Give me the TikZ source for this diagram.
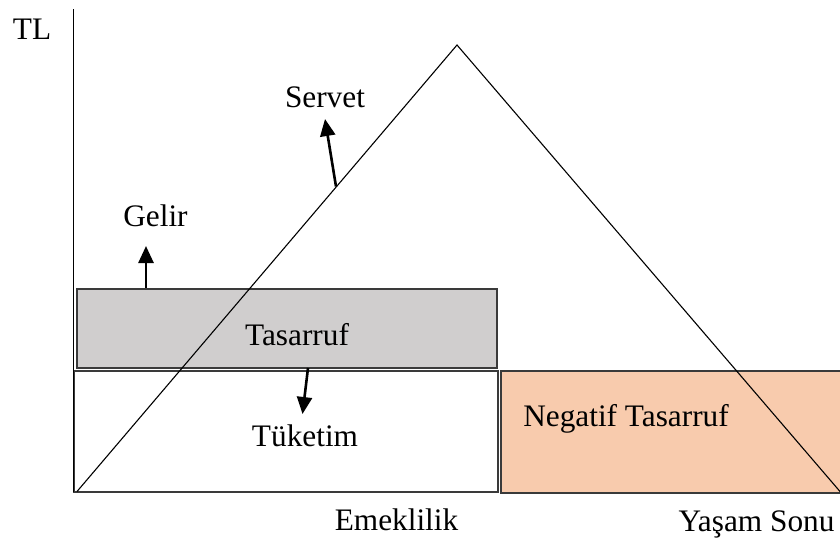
\documentclass[tikz,border=0pt]{standalone}
\usepackage{fontspec}
\setmainfont{Liberation Serif}
\usetikzlibrary{arrows.meta}
\definecolor{savegray}{HTML}{D0CECE}
\definecolor{dissave}{HTML}{F8CBAD}
\definecolor{edgeline}{HTML}{3A3A3A}

\begin{document}
\begin{tikzpicture}[x=1pt,y=-1pt,
  lbl/.style={anchor=base,inner sep=0pt,font=\fontsize{31.3}{36}\selectfont},
  band/.style={draw=edgeline,line width=1.5pt},
  thinline/.style={line width=1.1pt},
  pointer/.style={line width=2.6pt,-{Triangle[width=15pt,length=17pt]}}]
\useasboundingbox (0,0) rectangle (840,547);

% dissaving block after retirement
\draw[band,fill=dissave] (501,371) rectangle (846,493);
% saving band (income above consumption)
\draw[band,fill=savegray] (77,289) rectangle (497,368);
% consumption block
\draw[draw=edgeline,line width=1.3pt] (74,371) rectangle (498,492);

% wealth triangle
\coordinate (w0) at (77,491.5);
\coordinate (wtop) at (457,45);
\coordinate (wend) at (843,495);
\draw[thinline] (w0) -- (wtop) -- (wend);

% vertical axis
\coordinate (ytop) at (73.5,9);
\coordinate (ybot) at (73.5,492);
\draw[line width=1.3pt] (ytop) -- (ybot);

% labels
\node[lbl] (tl) at (32,39) {TL};
\node[lbl] (servet) at (325,107.5) {Servet};
\node[lbl] (gelir) at (155.5,226.5) {Gelir};
\node[lbl] (tasarruf) at (297,345) {Tasarruf};
\node[lbl] (tuketim) at (305,446.5) {Tüketim};
\node[lbl] (negatif) at (626,426.5) {Negatif Tasarruf};
\node[lbl] (emeklilik) at (396.5,530) {Emeklilik};
\node[lbl] (yasam) at (756.5,531.5) {Yaşam Sonu};

% pointers
\coordinate (gfoot) at (146,288);
\coordinate (gtip) at (146,246);
\draw[pointer] (gfoot) -- (gtip);
\coordinate (sfoot) at (336,186.5);
\coordinate (stip) at (325,119);
\draw[pointer] (sfoot) -- (stip);
\coordinate (tfoot) at (308,368);
\coordinate (ttip) at (302.5,414);
\draw[pointer] (tfoot) -- (ttip);
\end{tikzpicture}
\end{document}
